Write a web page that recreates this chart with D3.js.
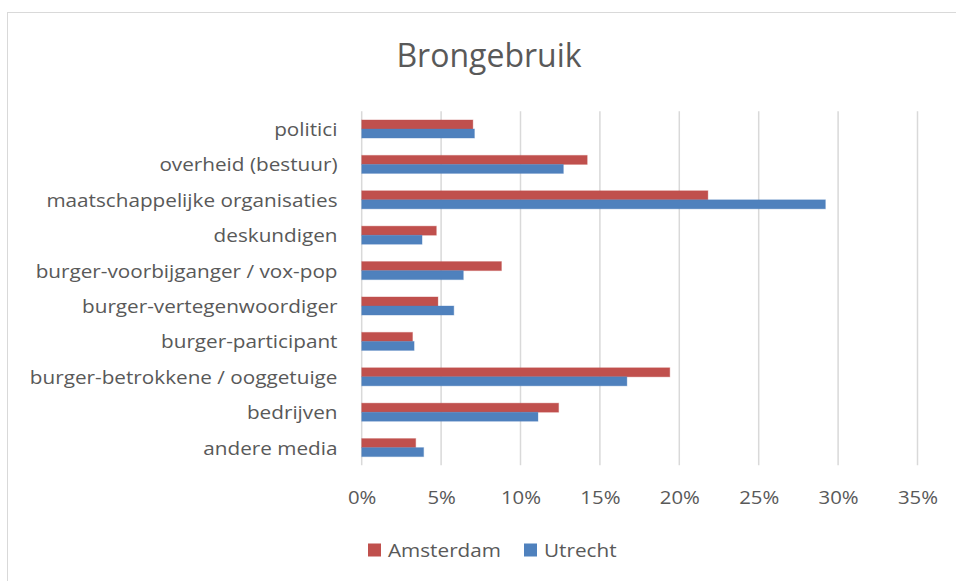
<!DOCTYPE html>
<html>
<head>
<meta charset="utf-8">
<script src="https://cdn.jsdelivr.net/npm/d3@7"></script>
<style>
  html, body { margin: 0; padding: 0; background: #fff; }
  svg { display: block; }
  text { font-family: "Open Sans", "Noto Sans", sans-serif; fill: #595959; }
</style>
</head>
<body>
<svg id="chart" width="956" height="581"></svg>
<script>
// Categories, top to bottom
const categories = [
  "politici",
  "overheid (bestuur)",
  "maatschappelijke organisaties",
  "deskundigen",
  "burger-voorbijganger / vox-pop",
  "burger-vertegenwoordiger",
  "burger-participant",
  "burger-betrokkene / ooggetuige",
  "bedrijven",
  "andere media"
];
// Share of sources used (fractions)
const amsterdam = [0.070, 0.142, 0.218, 0.047, 0.088, 0.048, 0.032, 0.194, 0.124, 0.034];
const utrecht   = [0.071, 0.127, 0.292, 0.038, 0.064, 0.058, 0.033, 0.167, 0.111, 0.039];
const seriesNames = ["Amsterdam", "Utrecht"];
const seriesColors = ["#c0504d", "#4f81bd"];
const tickValues = [0, 0.05, 0.10, 0.15, 0.20, 0.25, 0.30, 0.35];

const svg = d3.select("#chart");
const W = 956, H = 581;
const textStretch = "scale(1.12,1)";

// Chart frame
svg.append("rect")
  .attr("x", 7.5).attr("y", 12.5)
  .attr("width", W + 10).attr("height", H + 10)
  .attr("fill", "#fff").attr("stroke", "#d9d9d9").attr("stroke-width", 1);

const plot = { left: 361.7, right: 917.5, top: 111.3, bottom: 465.3 };

const x = d3.scaleLinear().domain([0, 0.35]).range([plot.left, plot.right]);
const y = d3.scaleBand().domain(categories).range([plot.top, plot.bottom])
  .paddingInner(0.49).paddingOuter(0.245);
const ySub = d3.scaleBand().domain(seriesNames).range([0, y.bandwidth()]);

// Title
svg.append("text")
  .attr("x", 489).attr("y", 67)
  .attr("text-anchor", "middle")
  .style("font-size", "32px")
  .text("Brongebruik");

// Vertical gridlines
svg.append("g").selectAll("line")
  .data(tickValues)
  .join("line")
  .attr("x1", d => x(d)).attr("x2", d => x(d))
  .attr("y1", plot.top).attr("y2", plot.bottom)
  .attr("stroke", "#d9d9d9").attr("stroke-width", 1.5);

// X axis tick labels
const xAxis = d3.axisBottom(x).tickValues(tickValues).tickFormat(d3.format(".0%")).tickSize(0).tickPadding(0);
const gx = svg.append("g").attr("transform", "translate(0, 503.5)").call(xAxis);
gx.select(".domain").remove();
gx.selectAll("text")
  .attr("dy", null).attr("y", 0)
  .attr("transform", "scale(1.1,1)")
  .style("font-size", "18.5px").style("font-family", "'Open Sans', sans-serif").attr("fill", "#595959");

// Category labels
const yAxis = d3.axisLeft(y).tickSize(0).tickPadding(0);
const gy = svg.append("g").attr("transform", "translate(337.5, 0)").call(yAxis);
gy.select(".domain").remove();
gy.selectAll("text")
  .attr("dy", null).attr("x", 0).attr("y", 7)
  .attr("transform", textStretch)
  .style("font-size", "18.5px").style("font-family", "'Open Sans', sans-serif").attr("fill", "#595959");

// Bars
const rows = categories.map((c, i) => ({ cat: c, values: [amsterdam[i], utrecht[i]] }));
const groups = svg.append("g").selectAll("g")
  .data(rows)
  .join("g")
  .attr("transform", d => `translate(0, ${y(d.cat)})`);
groups.selectAll("rect")
  .data(d => d.values.map((v, j) => ({ v, j })))
  .join("rect")
  .attr("x", x(0))
  .attr("y", d => ySub(seriesNames[d.j]))
  .attr("width", d => x(d.v) - x(0))
  .attr("height", ySub.bandwidth())
  .attr("fill", d => seriesColors[d.j])
  .attr("stroke", d => seriesColors[d.j])
  .attr("stroke-opacity", 0.35)
  .attr("stroke-width", 1);

// Legend
const legend = svg.append("g").attr("transform", "translate(0, 550)");
const legendItems = [
  { name: seriesNames[0], color: seriesColors[0], sx: 368, tx: 388 },
  { name: seriesNames[1], color: seriesColors[1], sx: 524, tx: 544 }
];
const li = legend.selectAll("g").data(legendItems).join("g");
li.append("rect").attr("x", d => d.sx).attr("y", -6.5).attr("width", 13).attr("height", 13)
  .attr("fill", d => d.color);
li.append("g").attr("transform", d => `translate(${d.tx}, 7)`)
  .append("text")
  .attr("transform", textStretch)
  .style("font-size", "18.5px")
  .text(d => d.name);
</script>
</body>
</html>
